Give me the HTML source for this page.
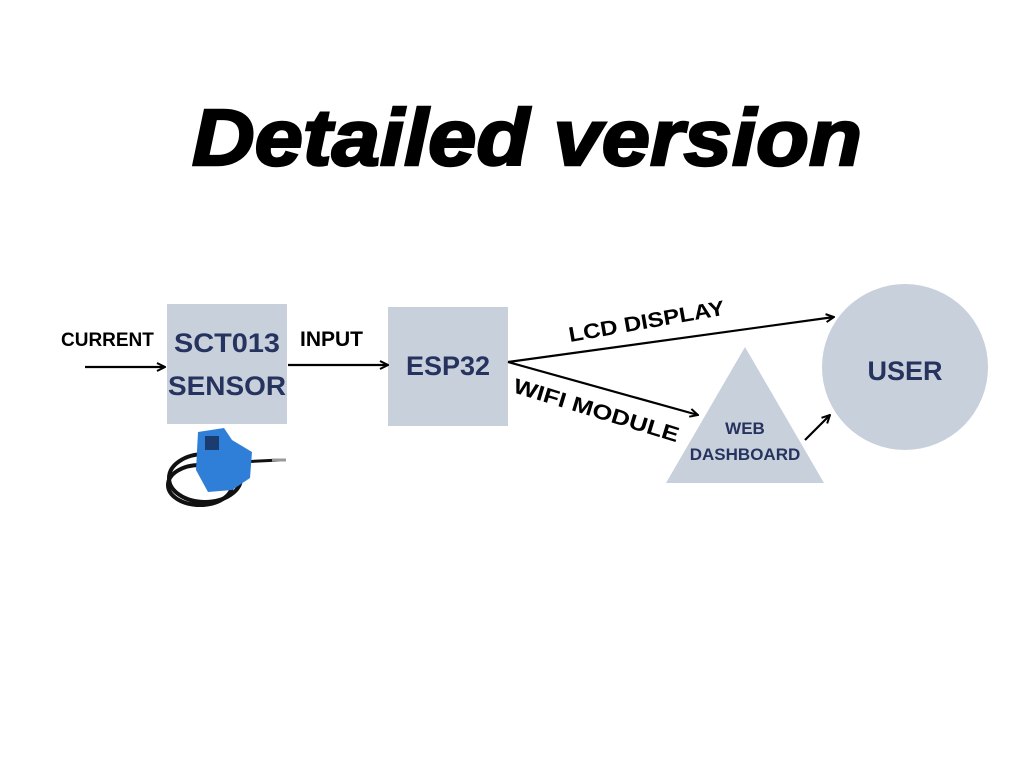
<!DOCTYPE html>
<html><head><meta charset="utf-8"><style>html,body{margin:0;padding:0;background:#fff}svg{display:block}</style></head>
<body>
<svg width="1024" height="768" viewBox="0 0 1024 768" xmlns="http://www.w3.org/2000/svg">
<defs><marker id="a" markerWidth="10" markerHeight="10" refX="9" refY="5" orient="auto" markerUnits="userSpaceOnUse"><path d="M1,1 L9,5 L1,9" fill="none" stroke="#000" stroke-width="2"/></marker></defs>
<rect width="1024" height="768" fill="#fff"/>
<text x="192" y="165" font-family="Liberation Sans, sans-serif" font-weight="bold" font-style="italic" font-size="80" textLength="670" lengthAdjust="spacingAndGlyphs" fill="#000" stroke="#000" stroke-width="2.5">Detailed version</text>
<rect x="167" y="304" width="120" height="120" fill="#c8d0dc"/>
<rect x="388" y="307" width="120" height="119" fill="#c8d0dc"/>
<circle cx="905" cy="367" r="83" fill="#c8d0dc"/>
<polygon points="745,347 824,483 666,483" fill="#c8d0dc"/>
<g font-family="Liberation Sans, sans-serif" font-weight="bold" fill="#26335f" text-anchor="middle">
<text x="227" y="352" font-size="27" textLength="106" lengthAdjust="spacingAndGlyphs">SCT013</text>
<text x="227" y="395" font-size="27" textLength="118" lengthAdjust="spacingAndGlyphs">SENSOR</text>
<text x="448" y="375" font-size="27">ESP32</text>
<text x="905" y="380" font-size="27">USER</text>
<text x="745" y="434" font-size="17">WEB</text>
<text x="745" y="460" font-size="17">DASHBOARD</text>
</g>
<g font-family="Liberation Sans, sans-serif" font-weight="bold" fill="#000">
<text x="61" y="346" font-size="19">CURRENT</text>
<text x="300" y="346" font-size="21">INPUT</text>
<text x="570" y="342" font-size="21" textLength="158" lengthAdjust="spacingAndGlyphs" transform="rotate(-10 570 342)">LCD DISPLAY</text>
<text x="512" y="392" font-size="21" textLength="172" lengthAdjust="spacingAndGlyphs" transform="rotate(17 512 392)">WIFI MODULE</text>
</g>
<g stroke="#000" stroke-width="2.2" fill="none" marker-end="url(#a)">
<line x1="85" y1="367" x2="165" y2="367"/>
<line x1="288" y1="365" x2="388" y2="365"/>
<line x1="508" y1="362" x2="834" y2="317"/>
<line x1="508" y1="362" x2="698" y2="415"/>
<line x1="805" y1="440" x2="830" y2="415"/>
</g>
<g>
<ellipse cx="205" cy="478" rx="36" ry="24" fill="none" stroke="#111" stroke-width="4"/>
<ellipse cx="200" cy="485" rx="32" ry="20" fill="none" stroke="#111" stroke-width="4"/>
<line x1="240" y1="462" x2="280" y2="460" stroke="#111" stroke-width="3"/>
<line x1="272" y1="460" x2="286" y2="460" stroke="#999" stroke-width="3"/>
<path d="M198,432 L224,428 L232,440 L252,452 L250,478 L232,490 L208,492 L196,470 Z" fill="#2f7fd8"/>
<rect x="205" y="436" width="14" height="14" fill="#1a3c6e"/>
</g>
</svg>
</body></html>
